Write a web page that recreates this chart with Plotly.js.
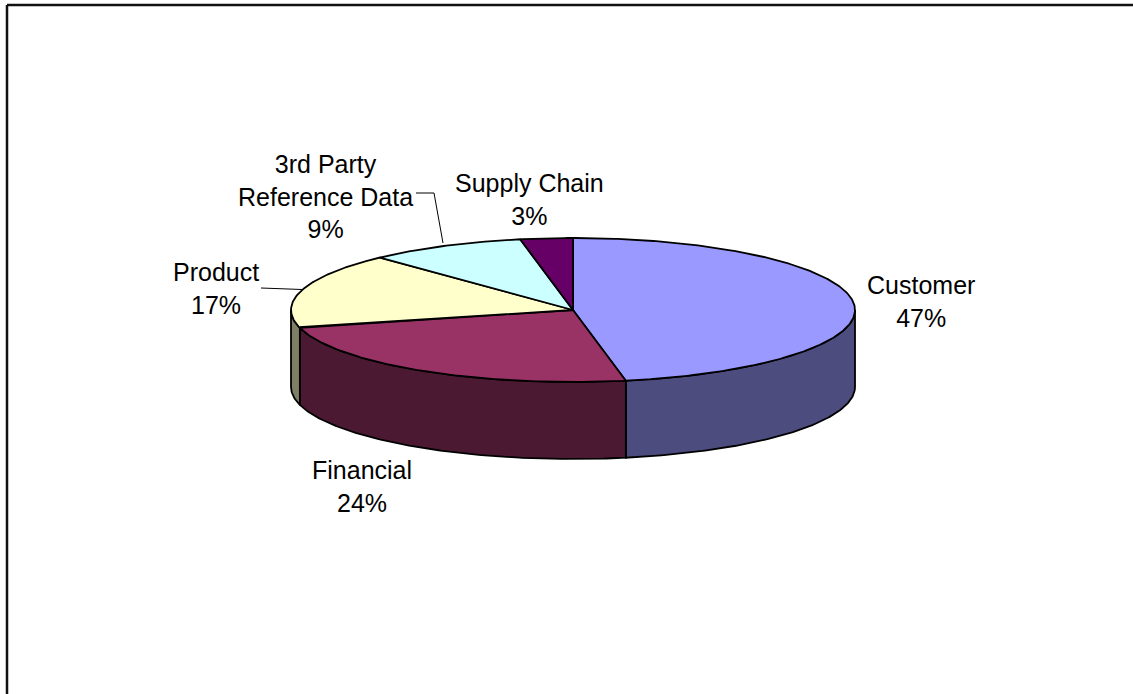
<!DOCTYPE html>
<html>
<head>
<meta charset="utf-8">
<script src="https://cdn.plot.ly/plotly-3.0.1.min.js"></script>
<style>
  html, body { margin: 0; padding: 0; background: #ffffff; }
  #chart { width: 1133px; height: 694px; }
</style>
</head>
<body>
<div id="chart"></div>
<script>
// ---- Data ----
const categories = ["Customer", "Financial", "Product", "3rd Party<br>Reference Data", "Supply Chain"];
const values = [47, 24, 17, 9, 3];
const topColors = ["#9999FF", "#993366", "#FFFFCC", "#CCFFFF", "#660066"];
const sideColors = ["#4C4C7F", "#4C1933", "#7F7F66", "#667F7F", "#330033"];

// ---- Layout of the 3D pie (pixel-like axis units) ----
const W = 1133, H = 694;
const cx = 573, cy = 310, rx = 282, ry = 72, depth = 77;
const labelPos = [
  {x: 921, y: 301},
  {x: 362, y: 486},
  {x: 216, y: 288},
  {x: 325, y: 196},
  {x: 529, y: 199}
];

const total = values.reduce((a, b) => a + b, 0);
function pt(theta, dy) {
  return [cx + rx * Math.sin(theta), cy - ry * Math.cos(theta) + (dy || 0)];
}
function arc(a0, a1, dy) {
  const n = Math.max(2, Math.ceil(Math.abs(a1 - a0) / 0.01));
  const xs = [], ys = [];
  for (let i = 0; i <= n; i++) {
    const t = a0 + (a1 - a0) * i / n;
    const p = pt(t, dy);
    xs.push(p[0]); ys.push(p[1]);
  }
  return [xs, ys];
}

const traces = [];
const sideTraces = [];
const topTraces = [];
let cum = 0;
values.forEach((v, i) => {
  const a0 = 2 * Math.PI * cum / total;
  cum += v;
  const a1 = 2 * Math.PI * cum / total;
  // visible side wall: front half (pi/2 .. 3pi/2)
  const s0 = Math.max(a0, Math.PI / 2), s1 = Math.min(a1, 3 * Math.PI / 2);
  if (s1 > s0) {
    const topA = arc(s0, s1, 0);
    const botA = arc(s1, s0, depth);
    const xs = topA[0].concat(botA[0]); xs.push(topA[0][0]);
    const ys = topA[1].concat(botA[1]); ys.push(topA[1][0]);
    sideTraces.push({
      type: "scatter", mode: "lines", x: xs, y: ys, fill: "toself",
      fillcolor: sideColors[i], line: {color: "#000000", width: 1.8},
      hoverinfo: "skip", showlegend: false
    });
  }
  const ta = arc(a0, a1, 0);
  const xs = [cx].concat(ta[0]); xs.push(cx);
  const ys = [cy].concat(ta[1]); ys.push(cy);
  topTraces.push({
    type: "scatter", mode: "lines", x: xs, y: ys, fill: "toself",
    fillcolor: topColors[i], line: {color: "#000000", width: 1.8},
    hoverinfo: "skip", showlegend: false
  });
});
traces.push(...sideTraces, ...topTraces);

const annotations = categories.map((c, i) => ({
  x: labelPos[i].x, y: labelPos[i].y, xref: "x", yref: "y",
  text: c + "<br>" + Math.round(values[i] / total * 100) + "%",
  showarrow: false, xanchor: "center", yanchor: "middle", align: "center",
  font: {family: "Liberation Sans, Arial, sans-serif", size: 25, color: "#000000"}
}));

const shapes = [
  // chart frame (top and left edges visible)
  {type: "line", xref: "x", yref: "y", x0: 7, y0: 5, x1: W, y1: 5, line: {color: "#111111", width: 2.5}},
  {type: "line", xref: "x", yref: "y", x0: 7, y0: 5, x1: 7, y1: H, line: {color: "#111111", width: 2.5}},
  // leader lines
  {type: "line", xref: "x", yref: "y", x0: 261, y0: 288, x1: 302, y1: 289.5, line: {color: "#000000", width: 1}},
  {type: "path", xref: "x", yref: "y", path: "M 416 193 L 434 193 L 443 243", line: {color: "#000000", width: 1}}
];

const layout = {
  width: W, height: H,
  margin: {l: 0, r: 0, t: 0, b: 0, pad: 0},
  paper_bgcolor: "#ffffff", plot_bgcolor: "#ffffff",
  xaxis: {range: [0, W], visible: false, fixedrange: true},
  yaxis: {range: [H, 0], visible: false, fixedrange: true},
  showlegend: false,
  annotations: annotations,
  shapes: shapes,
  hovermode: false
};

Plotly.newPlot("chart", traces, layout, {displayModeBar: false, staticPlot: true});
</script>
</body>
</html>
